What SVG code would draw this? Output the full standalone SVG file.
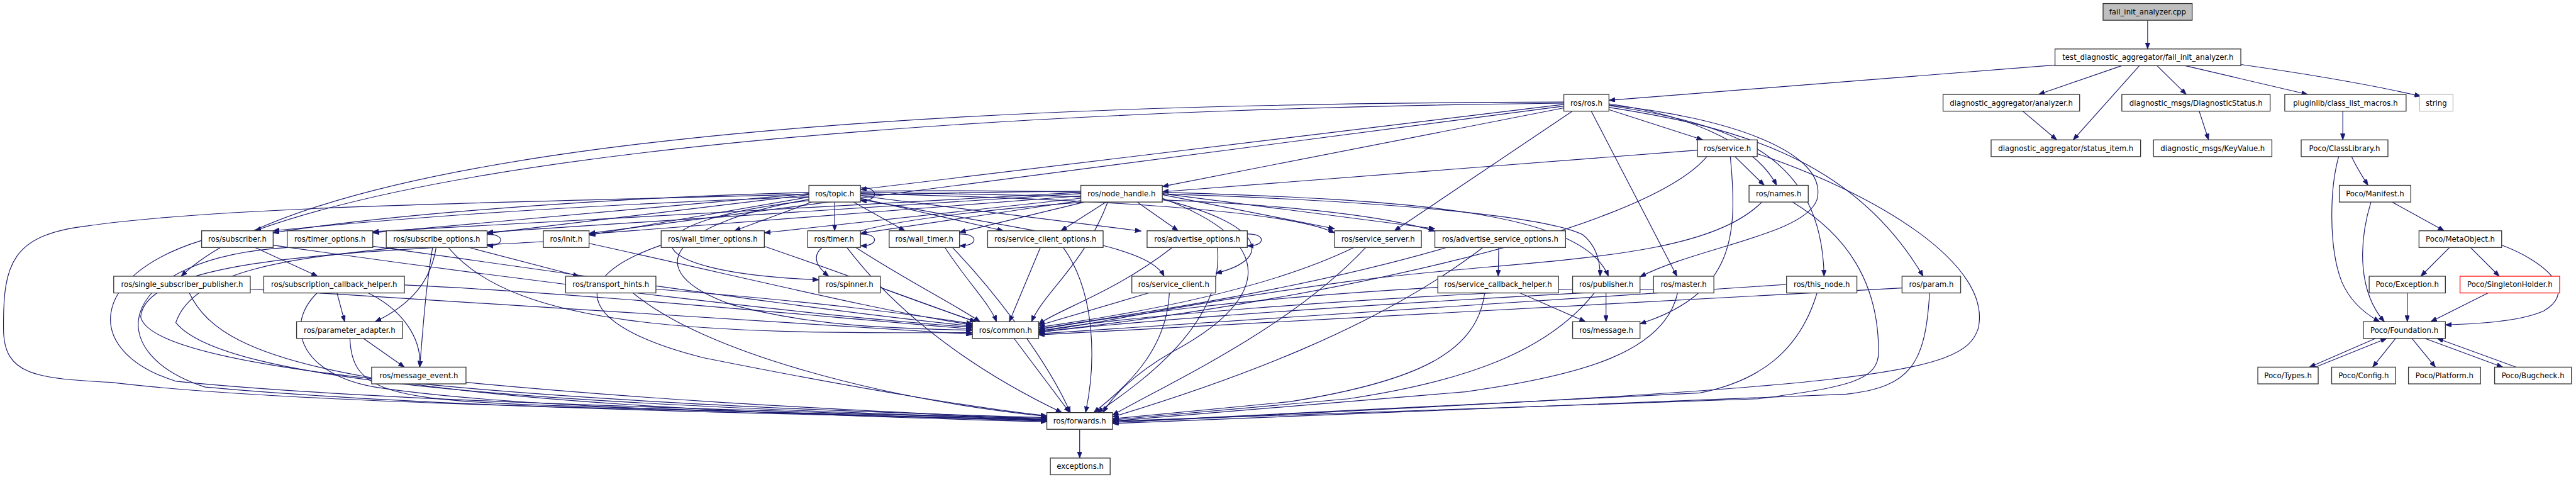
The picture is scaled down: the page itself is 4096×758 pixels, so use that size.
<svg xmlns="http://www.w3.org/2000/svg" width="4096" height="758" viewBox="0 0 4096 758">
<defs>
<marker id="arr" markerUnits="userSpaceOnUse" markerWidth="11" markerHeight="8" refX="10.5" refY="4" orient="auto"><path d="M0,0 L10.5,4 L0,8 z" fill="#191970" stroke="#191970" stroke-width="0.8"/></marker>
</defs>
<style>
#edges path{fill:none;stroke:#191970;stroke-width:1.25;marker-end:url(#arr)}
.n rect{fill:#fff;stroke:#333;stroke-width:1.4}
.n text{font-family:"DejaVu Sans",sans-serif;font-size:12.6px;fill:#000;text-anchor:middle}
</style>
<rect width="4096" height="758" fill="#fff"/>
<g transform="scale(0.932)">
<g id="edges">
<path d="M3664,35 L3664,83.5"/>
<path d="M3506,111 L2745,171"/>
<path d="M3620,112 L3478,161"/>
<path d="M3650,112 L3537,238.5"/>
<path d="M3680,112 L3730,161"/>
<path d="M3728,112 L3937,161"/>
<path d="M3823,110 C3950,128 4060,148 4130,164"/>
<path d="M3451,189.5 L3509,238.5"/>
<path d="M3752,189.5 L3768,238.5"/>
<path d="M3997,189.5 L3997,238.5"/>
<path d="M4012,267 C4020,285 4030,300 4040,316"/>
<path d="M3990,267 C3975,320 3972,420 3995,480 C4010,515 4035,535 4060,548.5"/>
<path d="M4081,344.5 L4170,393.5"/>
<path d="M4045,344.5 C4022,420 4025,500 4068,548.5"/>
<path d="M4179,422 L4130,471"/>
<path d="M4215,422 L4264,471"/>
<path d="M4268,418 C4340,445 4400,495 4340,530 C4300,548 4230,552 4172,554"/>
<path d="M4107,499.5 L4107,548.5"/>
<path d="M4245,499.5 L4147,548.5"/>
<path d="M4053,577 L3940,626"/>
<path d="M3950,626 L4072,577"/>
<path d="M4087,577 L4048,626"/>
<path d="M4115,577 L4155,626"/>
<path d="M4137,577 L4270,626"/>
<path d="M4293,626 L4158,577"/>
<path d="M2745,187 L2905,238.5"/>
<path d="M2668,178 L1468,323"/>
<path d="M2668,184 L1983,318"/>
<path d="M2668,181 L1005,398"/>
<path d="M2668,176 C2000,182 900,225 435,393.5"/>
<path d="M2668,174 C2000,176 600,195 309,471"/>
<path d="M2682,190 L2379,393.5"/>
<path d="M2715,190 L2861,471"/>
<path d="M2745,177 C2900,198 3000,255 3031,316"/>
<path d="M2745,180 C2960,212 3108,265 3112,471"/>
<path d="M2745,183 C2950,215 3160,265 3281,471"/>
<path d="M2745,179 C2950,200 3120,260 3100,340 C3080,400 2900,420 2798,472"/>
<path d="M2896,256 L1983,327"/>
<path d="M2960,267 L3010,316"/>
<path d="M2912,267 C2800,400 2200,520 1772,566"/>
<path d="M2952,267 C2965,400 2960,500 2798,552"/>
<path d="M2998,262 C3200,330 3400,450 3375,560 C3350,640 3200,660 1898,720"/>
<path d="M3006,344.5 C2900,450 2600,440 2300,480 C2000,520 1850,558 1772,564"/>
<path d="M3058,344.5 C3150,400 3205,480 3205,600 C3205,650 3150,660 3000,680 L1898,718"/>
<path d="M1380,328 C1100,335 700,360 466,397"/>
<path d="M1380,330 L636,397"/>
<path d="M1380,332 L831,398"/>
<path d="M1380,336 L1005,401"/>
<path d="M1385,344.5 L1253,393.5"/>
<path d="M1424,344.5 L1424,393.5"/>
<path d="M1456,344.5 L1544,393.5"/>
<path d="M1468,338 L1712,393.5"/>
<path d="M1468,334 L1947,394"/>
<path d="M1380,342 C1050,380 1080,465 1397,477"/>
<path d="M1468,340 C1800,400 1960,420 1986,471"/>
<path d="M1468,330 C1900,340 2200,360 2277,397"/>
<path d="M1468,328 C2000,335 2300,350 2448,394"/>
<path d="M1468,326 C2000,320 2600,350 2700,400 C2725,420 2730,450 2730,471"/>
<path d="M1380,340 C1150,380 1080,460 1250,520 C1400,560 1550,560 1659,563"/>
<path d="M1380,331 C900,345 400,350 150,385 C20,400 5,450 6,560 C6,640 60,645 190,652 C500,690 1200,700 1786,713"/>
<path d="M1468,320 C1500,318 1500,344 1468,342"/>
<path d="M1844,326 C1300,330 800,360 466,393.5"/>
<path d="M1844,328 L636,395"/>
<path d="M1844,330 L831,396"/>
<path d="M1844,334 L1005,399"/>
<path d="M1844,338 L1304,397"/>
<path d="M1844,342 L1468,398"/>
<path d="M1850,344.5 L1637,396"/>
<path d="M1887,344.5 L1810,393.5"/>
<path d="M1940,344.5 L2010,393.5"/>
<path d="M1983,332 L2277,390"/>
<path d="M1983,330 L2448,390"/>
<path d="M1983,328 C2400,340 2700,360 2744,471"/>
<path d="M1983,340 C2150,380 2180,440 2074,466"/>
<path d="M1848,344.5 C1500,372 1330,405 1414,471"/>
<path d="M1890,344.5 C1850,450 1780,500 1760,548.5"/>
<path d="M1983,338 C2200,420 2150,520 2000,600 C1930,640 1895,680 1882,703.5"/>
<path d="M435,422 L542,471"/>
<path d="M466,418 C900,480 1400,540 1659,558"/>
<path d="M344,410 C150,470 140,600 300,650 C700,690 1400,700 1786,716"/>
<path d="M636,420 C1000,470 1400,530 1659,556"/>
<path d="M490,422 C200,440 165,600 350,660 C800,700 1400,705 1786,717"/>
<path d="M800,422 L988,471"/>
<path d="M744,422 C735,480 700,520 640,548.5"/>
<path d="M738,422 C725,500 722,560 716,626"/>
<path d="M765,422 C880,560 1200,570 1659,567"/>
<path d="M680,422 C500,440 330,460 300,550 C380,650 900,690 1786,714"/>
<path d="M831,400 C862,398 862,420 831,419"/>
<path d="M1005,415 C1300,480 1500,530 1659,554"/>
<path d="M927,412 C600,430 250,440 240,540 C260,640 1000,690 1786,712"/>
<path d="M427,493 C900,520 1400,550 1659,570"/>
<path d="M323,499.5 C380,620 600,690 1786,719"/>
<path d="M575,499.5 L588,548.5"/>
<path d="M628,499.5 C690,530 720,580 716,626"/>
<path d="M690,486 C1000,500 1400,540 1659,561"/>
<path d="M541,499.5 C480,560 520,640 640,660 C900,700 1400,705 1786,716"/>
<path d="M1119,493 C1400,515 1550,535 1659,552"/>
<path d="M1080,499.5 C1200,600 1500,680 1786,710"/>
<path d="M620,577 L690,626"/>
<path d="M597,577 C600,660 650,680 900,690 C1300,700 1600,710 1786,718"/>
<path d="M795,652 C1200,690 1500,700 1786,716"/>
<path d="M1304,420 C1450,470 1580,520 1665,548.5"/>
<path d="M1128,418 C950,480 1000,560 1200,610 C1500,670 1700,700 1786,709"/>
<path d="M1445,422 C1550,560 1700,650 1812,703.5"/>
<path d="M1460,422 C1550,480 1630,520 1672,548.5"/>
<path d="M1468,399 C1500,398 1500,420 1468,419"/>
<path d="M1612,422 C1650,480 1690,520 1700,548.5"/>
<path d="M1625,422 C1700,500 1790,620 1826,703.5"/>
<path d="M1637,399 C1670,398 1670,420 1637,419"/>
<path d="M1775,422 L1722,548.5"/>
<path d="M1814,422 C1870,500 1870,620 1852,703.5"/>
<path d="M2077,422 C2090,550 1950,650 1872,703.5"/>
<path d="M2000,422 C1900,500 1800,530 1772,553"/>
<path d="M2128,399 C2160,398 2160,420 2128,419"/>
<path d="M1960,499.5 L1772,555"/>
<path d="M1995,499.5 C1990,600 1920,660 1866,703.5"/>
<path d="M1502,490 L1665,549"/>
<path d="M2310,422 C2150,500 1900,540 1772,558"/>
<path d="M2330,422 C2200,560 2000,650 1898,708"/>
<path d="M2557,422 L2556,471"/>
<path d="M2468,422 C2200,500 1900,540 1772,561"/>
<path d="M2530,422 C2350,560 2100,650 1898,711"/>
<path d="M2593,499.5 L2705,548.5"/>
<path d="M2453,490 C2100,510 1900,540 1772,562"/>
<path d="M2533,499.5 C2520,600 2420,650 2200,685 L1898,714"/>
<path d="M2740,499.5 L2740,548.5"/>
<path d="M2683,493 C2300,510 1900,540 1772,565"/>
<path d="M2720,499.5 C2640,600 2500,650 2300,680 L1898,716"/>
<path d="M2862,499.5 C2840,600 2700,640 2500,668 L1898,718"/>
<path d="M2821,493 C2300,520 1900,550 1772,567"/>
<path d="M3048,485 C2500,520 2000,555 1772,569"/>
<path d="M3100,499.5 C3070,600 3000,650 2900,670 L1898,720"/>
<path d="M3245,491 C2600,530 2000,560 1772,571"/>
<path d="M3292,499.5 C3285,620 3260,660 3150,672 L1898,722"/>
<path d="M1730,577 L1825,703.5"/>
<path d="M1842,732 L1842,781"/>
</g>
<g id="n_cpp" class="n"><rect x="3588" y="6" width="152" height="28.5" style="fill:#bfbfbf"/><text x="3664" y="24.8">fail_init_analyzer.cpp</text></g>
<g id="n_test" class="n"><rect x="3506" y="83.5" width="317" height="28.5"/><text x="3664.5" y="102.3">test_diagnostic_aggregator/fail_init_analyzer.h</text></g>
<g id="n_ros" class="n"><rect x="2668" y="161" width="77" height="28.5"/><text x="2706.5" y="179.8">ros/ros.h</text></g>
<g id="n_analyzer" class="n"><rect x="3315" y="161" width="233" height="28.5"/><text x="3431.5" y="179.8">diagnostic_aggregator/analyzer.h</text></g>
<g id="n_dstatus" class="n"><rect x="3620" y="161" width="253" height="28.5"/><text x="3746.5" y="179.8">diagnostic_msgs/DiagnosticStatus.h</text></g>
<g id="n_plugin" class="n"><rect x="3898" y="161" width="207" height="28.5"/><text x="4001.5" y="179.8">pluginlib/class_list_macros.h</text></g>
<g id="n_string" class="n"><rect x="4128" y="161" width="57" height="28.5" style="stroke:#bfbfbf"/><text x="4156.5" y="179.8">string</text></g>
<g id="n_service" class="n"><rect x="2896" y="238.5" width="102" height="28.5"/><text x="2947" y="257.3">ros/service.h</text></g>
<g id="n_status" class="n"><rect x="3397" y="238.5" width="255" height="28.5"/><text x="3524.5" y="257.3">diagnostic_aggregator/status_item.h</text></g>
<g id="n_keyvalue" class="n"><rect x="3674" y="238.5" width="202" height="28.5"/><text x="3775" y="257.3">diagnostic_msgs/KeyValue.h</text></g>
<g id="n_classlib" class="n"><rect x="3926" y="238.5" width="148" height="28.5"/><text x="4000" y="257.3">Poco/ClassLibrary.h</text></g>
<g id="n_topic" class="n"><rect x="1380" y="316" width="88" height="28.5"/><text x="1424" y="334.8">ros/topic.h</text></g>
<g id="n_nh" class="n"><rect x="1844" y="316" width="139" height="28.5"/><text x="1913.5" y="334.8">ros/node_handle.h</text></g>
<g id="n_names" class="n"><rect x="2984" y="316" width="101" height="28.5"/><text x="3034.5" y="334.8">ros/names.h</text></g>
<g id="n_manifest" class="n"><rect x="3991" y="316" width="122" height="28.5"/><text x="4052" y="334.8">Poco/Manifest.h</text></g>
<g id="n_subscriber" class="n"><rect x="344" y="393.5" width="122" height="28.5"/><text x="405" y="412.3">ros/subscriber.h</text></g>
<g id="n_timer_options" class="n"><rect x="490" y="393.5" width="146" height="28.5"/><text x="563" y="412.3">ros/timer_options.h</text></g>
<g id="n_subscribe_options" class="n"><rect x="659" y="393.5" width="172" height="28.5"/><text x="745" y="412.3">ros/subscribe_options.h</text></g>
<g id="n_init" class="n"><rect x="927" y="393.5" width="78" height="28.5"/><text x="966" y="412.3">ros/init.h</text></g>
<g id="n_wall_timer_options" class="n"><rect x="1128" y="393.5" width="176" height="28.5"/><text x="1216" y="412.3">ros/wall_timer_options.h</text></g>
<g id="n_timer" class="n"><rect x="1378" y="393.5" width="90" height="28.5"/><text x="1423" y="412.3">ros/timer.h</text></g>
<g id="n_wall_timer" class="n"><rect x="1517" y="393.5" width="120" height="28.5"/><text x="1577" y="412.3">ros/wall_timer.h</text></g>
<g id="n_service_client_options" class="n"><rect x="1685" y="393.5" width="197" height="28.5"/><text x="1783.5" y="412.3">ros/service_client_options.h</text></g>
<g id="n_advertise_options" class="n"><rect x="1957" y="393.5" width="171" height="28.5"/><text x="2042.5" y="412.3">ros/advertise_options.h</text></g>
<g id="n_service_server" class="n"><rect x="2277" y="393.5" width="148" height="28.5"/><text x="2351" y="412.3">ros/service_server.h</text></g>
<g id="n_advertise_service_options" class="n"><rect x="2448" y="393.5" width="223" height="28.5"/><text x="2559.5" y="412.3">ros/advertise_service_options.h</text></g>
<g id="n_metaobject" class="n"><rect x="4127" y="393.5" width="141" height="28.5"/><text x="4197.5" y="412.3">Poco/MetaObject.h</text></g>
<g id="n_single_sub_pub" class="n"><rect x="194" y="471" width="233" height="28.5"/><text x="310.5" y="489.8">ros/single_subscriber_publisher.h</text></g>
<g id="n_sub_cb_helper" class="n"><rect x="450" y="471" width="240" height="28.5"/><text x="570" y="489.8">ros/subscription_callback_helper.h</text></g>
<g id="n_transport_hints" class="n"><rect x="965" y="471" width="154" height="28.5"/><text x="1042" y="489.8">ros/transport_hints.h</text></g>
<g id="n_spinner" class="n"><rect x="1397" y="471" width="105" height="28.5"/><text x="1449.5" y="489.8">ros/spinner.h</text></g>
<g id="n_service_client" class="n"><rect x="1931" y="471" width="143" height="28.5"/><text x="2002.5" y="489.8">ros/service_client.h</text></g>
<g id="n_service_cb_helper" class="n"><rect x="2453" y="471" width="206" height="28.5"/><text x="2556" y="489.8">ros/service_callback_helper.h</text></g>
<g id="n_publisher" class="n"><rect x="2683" y="471" width="115" height="28.5"/><text x="2740.5" y="489.8">ros/publisher.h</text></g>
<g id="n_master" class="n"><rect x="2821" y="471" width="103" height="28.5"/><text x="2872.5" y="489.8">ros/master.h</text></g>
<g id="n_this_node" class="n"><rect x="3048" y="471" width="120" height="28.5"/><text x="3108" y="489.8">ros/this_node.h</text></g>
<g id="n_param" class="n"><rect x="3245" y="471" width="100" height="28.5"/><text x="3295" y="489.8">ros/param.h</text></g>
<g id="n_exception" class="n"><rect x="4042" y="471" width="130" height="28.5"/><text x="4107" y="489.8">Poco/Exception.h</text></g>
<g id="n_singleton" class="n"><rect x="4197" y="471" width="170" height="28.5" style="stroke:#ff0000"/><text x="4282" y="489.8">Poco/SingletonHolder.h</text></g>
<g id="n_parameter_adapter" class="n"><rect x="506" y="548.5" width="181" height="28.5"/><text x="596.5" y="567.3">ros/parameter_adapter.h</text></g>
<g id="n_common" class="n"><rect x="1659" y="548.5" width="113" height="28.5"/><text x="1715.5" y="567.3">ros/common.h</text></g>
<g id="n_message" class="n"><rect x="2683" y="548.5" width="115" height="28.5"/><text x="2740.5" y="567.3">ros/message.h</text></g>
<g id="n_foundation" class="n"><rect x="4032" y="548.5" width="140" height="28.5"/><text x="4102" y="567.3">Poco/Foundation.h</text></g>
<g id="n_message_event" class="n"><rect x="634" y="626" width="161" height="28.5"/><text x="714.5" y="644.8">ros/message_event.h</text></g>
<g id="n_types" class="n"><rect x="3852" y="626" width="103" height="28.5"/><text x="3903.5" y="644.8">Poco/Types.h</text></g>
<g id="n_config" class="n"><rect x="3978" y="626" width="109" height="28.5"/><text x="4032.5" y="644.8">Poco/Config.h</text></g>
<g id="n_platform" class="n"><rect x="4109" y="626" width="123" height="28.5"/><text x="4170.5" y="644.8">Poco/Platform.h</text></g>
<g id="n_bugcheck" class="n"><rect x="4256" y="626" width="131" height="28.5"/><text x="4321.5" y="644.8">Poco/Bugcheck.h</text></g>
<g id="n_forwards" class="n"><rect x="1786" y="703.5" width="112" height="28.5"/><text x="1842" y="722.3">ros/forwards.h</text></g>
<g id="n_exceptions" class="n"><rect x="1792" y="781" width="102" height="28.5"/><text x="1843" y="799.8">exceptions.h</text></g>
</g>
</svg>
